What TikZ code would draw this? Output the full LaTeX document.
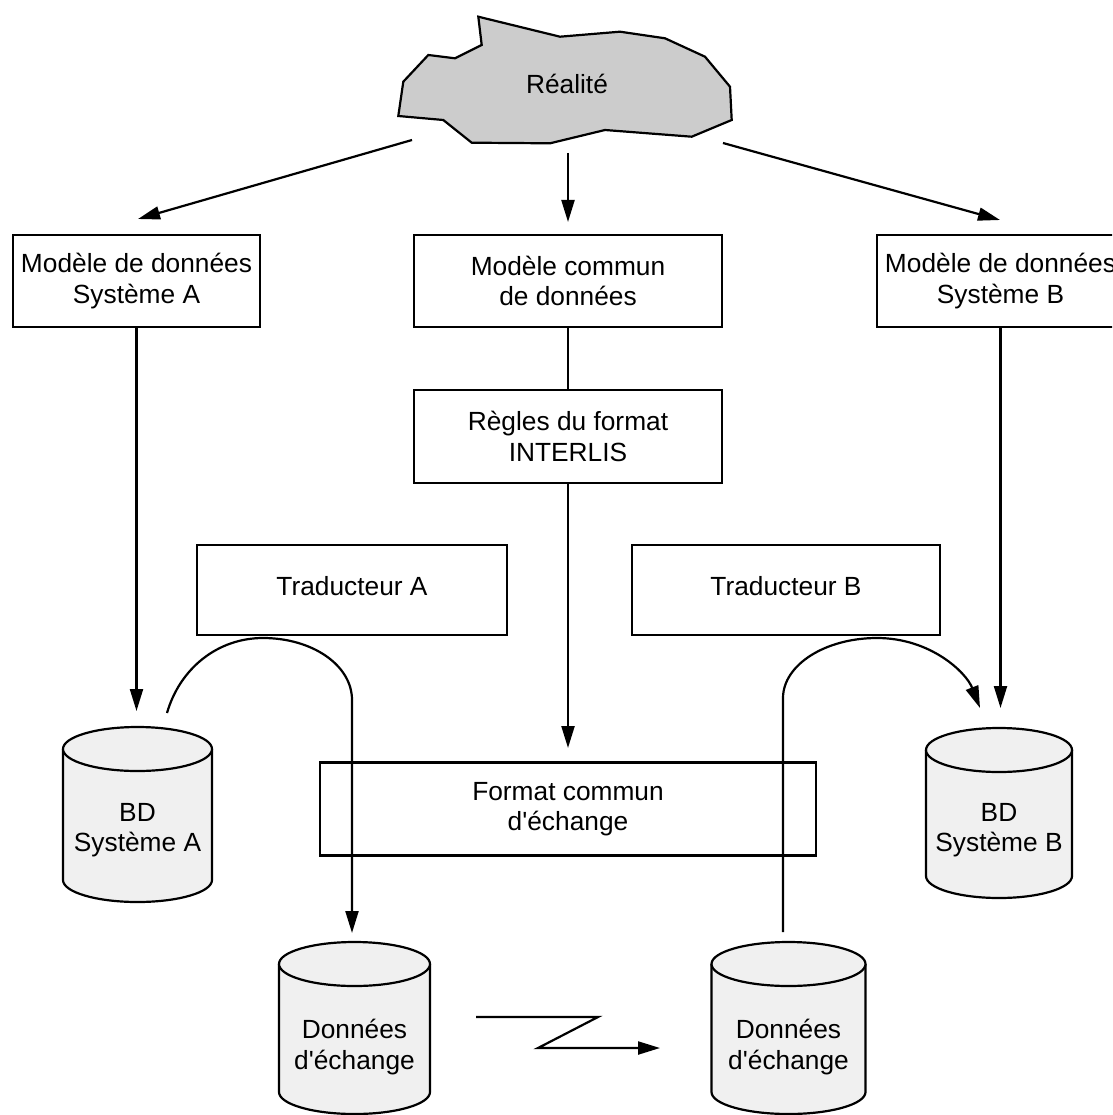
\documentclass[tikz,border=0pt]{standalone}
\usepackage{fontspec}
\setmainfont{Liberation Sans}
\usetikzlibrary{arrows.meta}
\definecolor{cylfill}{HTML}{F0F0F0}
\definecolor{cloudfill}{HTML}{CCCCCC}
\newcommand\lbl{\fontsize{26.3}{30.5}\selectfont}
% #1 cx, #2 top centre y, #3 bottom centre y, #4 rx, #5 ry
\newcommand\dbcyl[5]{%
  \filldraw[cylstyle] ({#1-#4},#2) -- ({#1-#4},#3)
    arc[start angle=180,end angle=360,x radius=#4pt,y radius=#5pt]
    -- ({#1+#4},#2)
    arc[start angle=0,end angle=180,x radius=#4pt,y radius=#5pt] -- cycle;
  \draw[cylstyle] ({#1-#4},#2)
    arc[start angle=180,end angle=360,x radius=#4pt,y radius=#5pt];}
\begin{document}
\begin{tikzpicture}[x=1pt,y=-1pt,
  box/.style={draw,line width=2.4pt,fill=white,minimum height=92pt,inner sep=0pt,align=center,font=\lbl},
  lab/.style={align=center,font=\lbl,inner sep=0pt},
  cylstyle/.style={draw,line width=2.2pt,fill=cylfill},
  ln/.style={line width=2.2pt},
  arr/.style={line width=2.2pt,-{Triangle[length=22pt,width=13pt]}}]
\useasboundingbox (0,0) rectangle (1112,1115);
\fill[white] (0,0) rectangle (1112,1115);
\clip (0,0) rectangle (1112,1115);

% cloud
\filldraw[fill=cloudfill,line width=2.2pt,line join=miter]
  (478.3,16.7) -- (481.7,45) -- (455,58.3) -- (428.3,55) -- (403.3,81.7)
  -- (398.3,116) -- (443.3,120) -- (471.7,142.7) -- (550,143.3) -- (605,130)
  -- (691.7,136.7) -- (731.7,120) -- (730,86.7) -- (705,56.7) -- (665,38.3)
  -- (620,31.7) -- (560,36.7) -- cycle;
\node[lab] (real) at (567,84) {Réalité};

% boxes
\node[box,minimum width=247pt] (mA) at (136.5,281) {Modèle de données\\Système A};
\node[box,minimum width=308pt] (mC) at (568,281) {Modèle commun\\de données};
\node[box,minimum width=247pt] (mB) at (1000.5,281) {Modèle de données\\Système B};
\node[box,minimum width=308pt,minimum height=93pt] (rg) at (568,436.5) {Règles du format\\INTERLIS};
\node[box,minimum width=310pt,minimum height=90pt,text depth=8pt] (tA) at (352,590) {Traducteur A};
\node[box,minimum width=308pt,minimum height=90pt,text depth=8pt] (tB) at (786,590) {Traducteur B};
\node[box,minimum width=496pt,minimum height=93pt] (fc) at (568,809) {Format commun\\d\textquotesingle échange};

% cylinders
\dbcyl{137.5}{749}{880}{74.5}{22}
\node[lab] (bdA) at (137.5,830) {BD\\Système A};
\dbcyl{999}{750}{876}{73}{22}
\node[lab] (bdB) at (999,830) {BD\\Système B};
\dbcyl{354.5}{964}{1092}{75.5}{22}
\node[lab] (deA) at (354.5,1047) {Données\\d\textquotesingle échange};
\dbcyl{788.5}{964}{1092}{77}{22}
\node[lab] (deB) at (788.5,1047) {Données\\d\textquotesingle échange};

% connector end points
\coordinate (cL) at (412,140);
\coordinate (cC) at (568,153);
\coordinate (cR) at (723,143);
\coordinate (pA) at (138,219);
\coordinate (pC) at (568,222);
\coordinate (pB) at (1000,220);
\coordinate (aA) at (136.5,711);
\coordinate (aB) at (1000.5,708);
\coordinate (aF) at (568,748);
\coordinate (sA) at (167,713);
\coordinate (eA) at (352,933);
\coordinate (sB) at (783,932);
\coordinate (eB) at (980,708);
\coordinate (z1) at (476,1017);
\coordinate (z4) at (660,1048);

% connectors
\draw[arr] (cL) -- (pA);
\draw[arr] (cC) -- (pC);
\draw[arr] (cR) -- (pB);
\draw[arr] (mA.south) -- (aA);
\draw[arr] (mB.south) -- (aB);
\draw[ln] (mC.south) -- (rg.north);
\draw[arr] (rg.south) -- (aF);
\draw[arr] (sA) .. controls (180,668) and (218,638) .. (263,638)
  .. controls (312,638) and (352,665) .. (352,700) -- (eA);
\draw[arr] (sB) -- (783,698) .. controls (783,665) and (825,638) .. (877,638)
  .. controls (930,638) and (966,672) .. (eB);
\draw[arr] (z1) -- (598,1017) -- (538,1048) -- (z4);
\end{tikzpicture}
\end{document}
